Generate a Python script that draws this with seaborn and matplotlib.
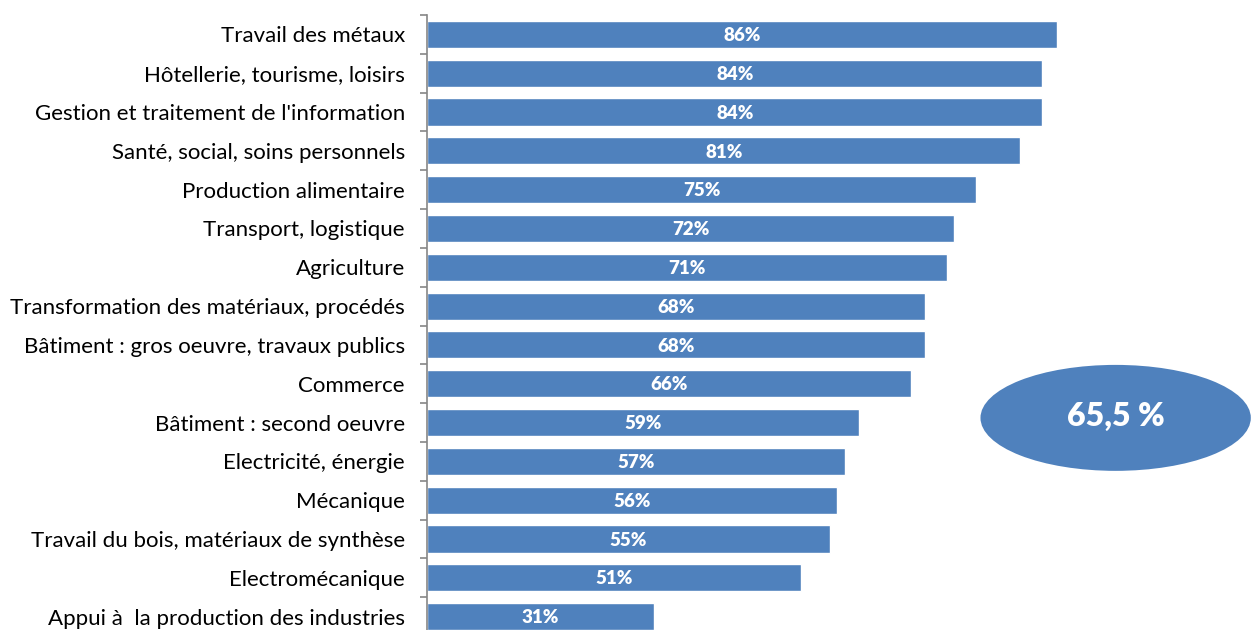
import matplotlib
matplotlib.use("Agg")
import matplotlib.pyplot as plt
import seaborn as sns
import pandas as pd
from matplotlib.patches import Ellipse

# Données
secteurs = [
    "Travail des métaux",
    "Hôtellerie, tourisme, loisirs",
    "Gestion et traitement de l'information",
    "Santé, social, soins personnels",
    "Production alimentaire",
    "Transport, logistique",
    "Agriculture",
    "Transformation des matériaux, procédés",
    "Bâtiment : gros oeuvre, travaux publics",
    "Commerce",
    "Bâtiment : second oeuvre",
    "Electricité, énergie",
    "Mécanique",
    "Travail du bois, matériaux de synthèse",
    "Electromécanique",
    "Appui à  la production des industries",
]
taux = [86, 84, 84, 81, 75, 72, 71, 68, 68, 66, 59, 57, 56, 55, 51, 31]
moyenne = "65,5 %"

df = pd.DataFrame({"secteur": secteurs, "taux": taux})

sns.set_style("white")
plt.rcParams['font.family'] = ['Lato', 'DejaVu Sans']

bleu = "#4f81bd"
fig = plt.figure(figsize=(12.51, 6.30), dpi=100)
# l'axe dépasse en bas, comme sur l'image d'origine (dernière barre coupée)
ax = fig.add_axes([427 / 1251, 1 - 636 / 630, 1 - 427 / 1251, 621 / 630])

sns.barplot(data=df, y="secteur", x="taux", color=bleu, saturation=1,
            width=0.7, ax=ax, orient="h")

ax.set_xlim(0, 824 / 7.326)
ax.set_ylim(len(secteurs) - 0.5, -0.5)

for i, v in enumerate(taux):
    ax.text(v / 2, i + 0.03, f"{v}%", color="white", fontweight="heavy",
            fontsize=13.5, ha="center", va="center")

# ellipse de la moyenne
ell = Ellipse((94.0, 9.88), width=36.9, height=2.73, facecolor=bleu,
              edgecolor="none", clip_on=False)
ax.add_patch(ell)
ax.text(94.0, 9.85, moyenne, color="white", fontweight="heavy", fontsize=23,
        ha="center", va="center")

ax.set_xlabel("")
ax.set_ylabel("")
ax.set_xticks([])
for s in ["top", "right", "bottom"]:
    ax.spines[s].set_visible(False)
ax.spines["left"].set_color("#868686")
ax.spines["left"].set_linewidth(1.2)

ax.set_yticks(range(len(secteurs)))
ax.set_yticklabels(secteurs, fontsize=16, color="black")
ax.tick_params(axis="y", which="major", length=0, pad=16)
ax.set_yticks([i - 0.5 for i in range(len(secteurs) + 1)], minor=True)
ax.tick_params(axis="y", which="minor", length=5, width=1.2, color="#868686",
               left=True)

fig.savefig("out.png", dpi=100)
